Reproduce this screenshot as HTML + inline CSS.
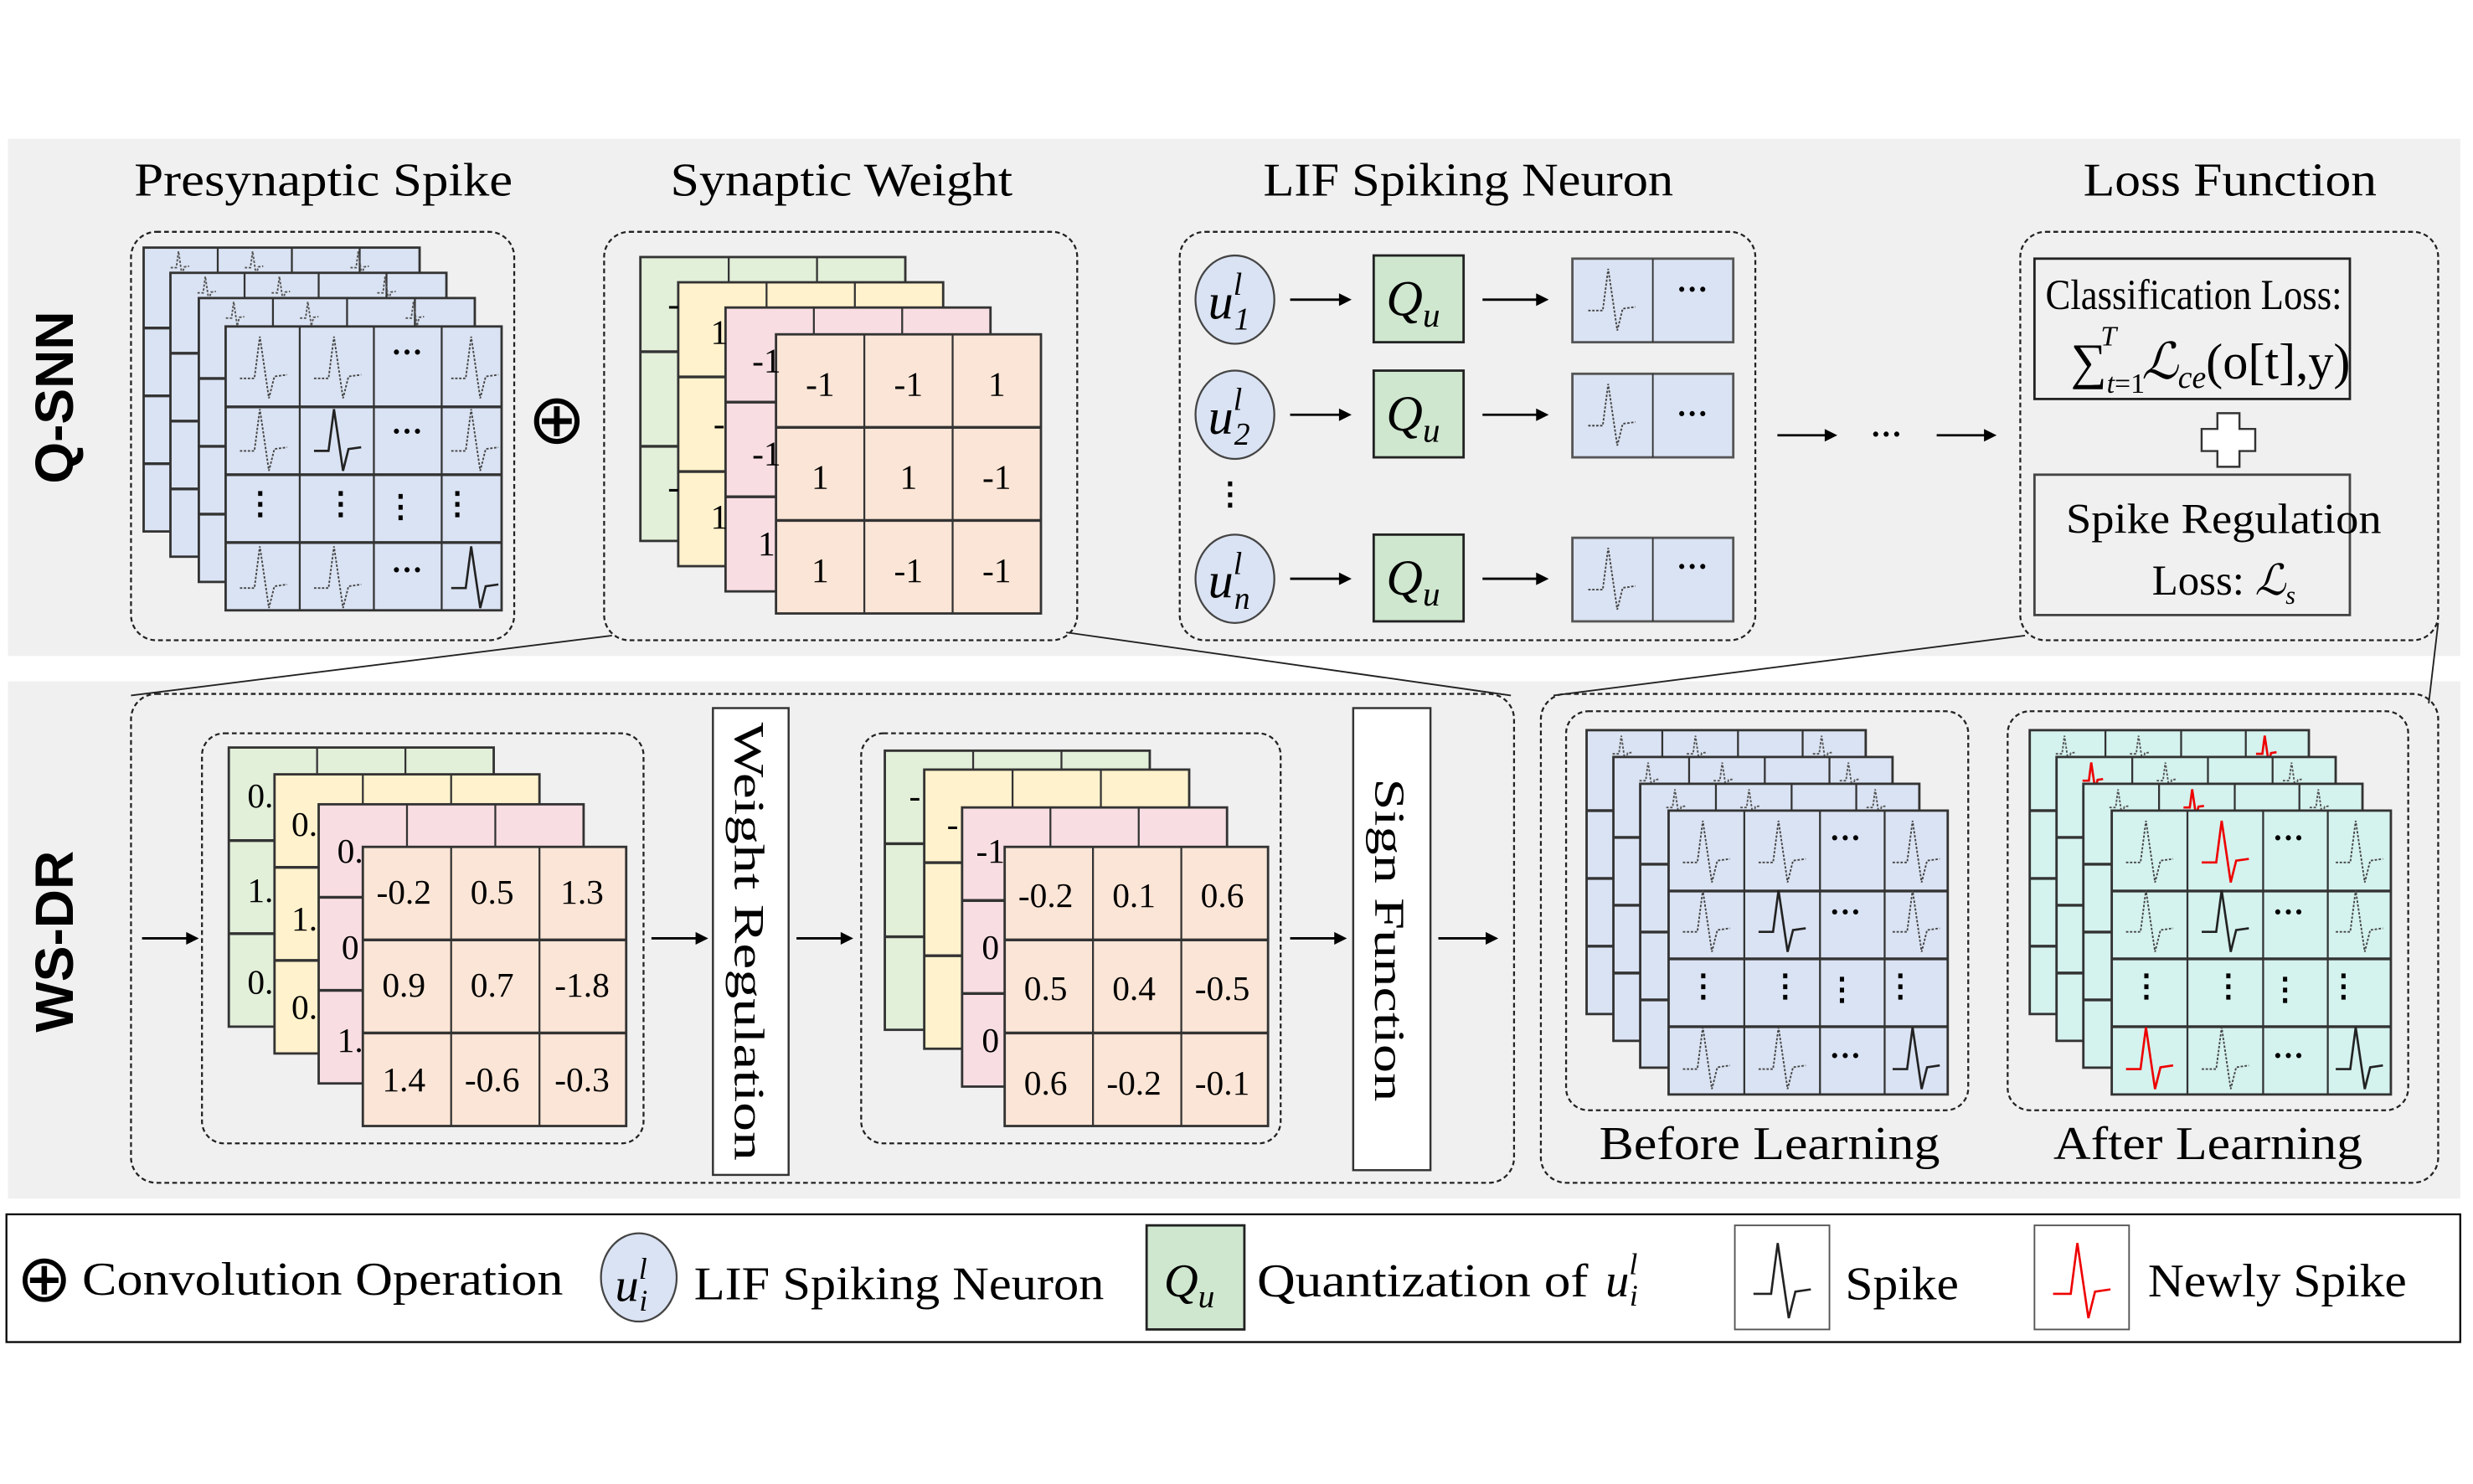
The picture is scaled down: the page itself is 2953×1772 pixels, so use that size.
<!DOCTYPE html>
<html><head><meta charset="utf-8">
<style>
html,body{margin:0;padding:0;background:#fff;}
svg{display:block;}
text{font-family:"Liberation Serif",serif;fill:#000;}
.t{font-size:30px;}
.n{font-size:22px;}
.sans{font-family:"Liberation Sans",sans-serif;font-weight:bold;}
</style></head>
<body>
<svg id="s" xmlns="http://www.w3.org/2000/svg" width="2953" height="1772" viewBox="0 0 1568 941">
<rect x="0" y="0" width="1568" height="941" fill="#fff"/>
<rect x="5" y="88" width="1555" height="328" fill="#f0f0f0"/>
<rect x="5" y="432" width="1555" height="328" fill="#f0f0f0"/>
<rect x="4" y="770" width="1556" height="81" fill="#fff" stroke="#000" stroke-width="1.2"/>
<g id="shapes"></g>

<text class="sans" font-size="34" transform="translate(46,252) rotate(-90)" text-anchor="middle">Q-SNN</text>
<text class="sans" font-size="34" transform="translate(46,597) rotate(-90)" text-anchor="middle">WS-DR</text>

<text class="t" x="85" y="124" textLength="240" lengthAdjust="spacingAndGlyphs">Presynaptic Spike</text>
<text class="t" x="425" y="124" textLength="217" lengthAdjust="spacingAndGlyphs">Synaptic Weight</text>
<text class="t" x="801" y="124" textLength="260" lengthAdjust="spacingAndGlyphs">LIF Spiking Neuron</text>
<text class="t" x="1321" y="124" textLength="186" lengthAdjust="spacingAndGlyphs">Loss Function</text>

<g font-size="20" font-weight="bold" text-anchor="middle">
<text x="258" y="230">···</text><text x="258" y="280">···</text><text x="258" y="368">···</text>
<text x="165" y="326">⋮</text><text x="216" y="326">⋮</text><text x="254" y="328">⋮</text><text x="290" y="326">⋮</text>
</g>
<text x="353" y="281" font-size="44" text-anchor="middle" font-family="DejaVu Sans,sans-serif">⊕</text>

<g class="n" text-anchor="middle" font-size="23">
<text x="427" y="200">-</text><text x="456" y="218">1</text><text x="486" y="236">-1</text>
<text x="456" y="276">-</text><text x="486" y="295">-1</text><text x="427" y="316">-</text>
<text x="456" y="335">1</text><text x="486" y="352">1</text>
<text x="520" y="251">-1</text><text x="576" y="251">-1</text><text x="632" y="251">1</text>
<text x="520" y="310">1</text><text x="576" y="310">1</text><text x="632" y="310">-1</text>
<text x="520" y="369">1</text><text x="576" y="369">-1</text><text x="632" y="369">-1</text>
</g>

<g font-style="italic" font-size="32">
<text x="766" y="202">u<tspan font-size="20" dy="-15">l</tspan><tspan font-size="20" dx="-5" dy="22">1</tspan></text>
<text x="766" y="275">u<tspan font-size="20" dy="-15">l</tspan><tspan font-size="20" dx="-5" dy="22">2</tspan></text>
<text x="766" y="379">u<tspan font-size="20" dy="-15">l</tspan><tspan font-size="20" dx="-5" dy="22">n</tspan></text>
<text x="879" y="200">Q<tspan font-size="22" dy="7">u</tspan></text>
<text x="879" y="273">Q<tspan font-size="22" dy="7">u</tspan></text>
<text x="879" y="377">Q<tspan font-size="22" dy="7">u</tspan></text>
</g>
<g font-size="20" font-weight="bold" text-anchor="middle">
<text x="1073" y="190">···</text><text x="1073" y="269">···</text><text x="1073" y="366">···</text>
<text x="780" y="320">⋮</text>
<text x="1196" y="282">···</text>
</g>

<text x="1297" y="196" font-size="27" textLength="188" lengthAdjust="spacingAndGlyphs">Classification Loss:</text>
<text x="1313" y="240" font-size="32">∑<tspan font-size="18" dy="9" font-style="italic">t</tspan><tspan font-size="18">=1</tspan><tspan font-size="18" font-style="italic" dx="-28" dy="-30">T</tspan><tspan dx="16" dy="21" font-style="italic">ℒ</tspan><tspan font-size="20" font-style="italic" dy="6">ce</tspan><tspan dy="-6">(o[t],y)</tspan></text>
<text x="1410" y="338" font-size="27" text-anchor="middle" textLength="200" lengthAdjust="spacingAndGlyphs">Spike Regulation</text>
<text x="1410" y="377" font-size="27" text-anchor="middle">Loss: <tspan font-style="italic">ℒ</tspan><tspan font-size="16" font-style="italic" dy="6">s</tspan></text>

<g class="n" text-anchor="middle">
<text x="165" y="512">0.</text><text x="193" y="530">0.</text><text x="165" y="572">1.</text><text x="193" y="590">1.</text>
<text x="165" y="630">0.</text><text x="193" y="646">0.</text>
<text x="222" y="547">0.</text>
<text x="222" y="608">0</text><text x="222" y="667">1.</text>
<text x="256" y="573">-0.2</text><text x="312" y="573">0.5</text><text x="369" y="573">1.3</text>
<text x="256" y="632">0.9</text><text x="312" y="632">0.7</text><text x="369" y="632">-1.8</text>
<text x="256" y="692">1.4</text><text x="312" y="692">-0.6</text><text x="369" y="692">-0.3</text>

<text x="580" y="512">-</text><text x="604" y="530">-</text><text x="628" y="547">-1</text>
<text x="628" y="608">0</text><text x="628" y="667">0</text>
<text x="663" y="575">-0.2</text><text x="719" y="575">0.1</text><text x="775" y="575">0.6</text>
<text x="663" y="634">0.5</text><text x="719" y="634">0.4</text><text x="775" y="634">-0.5</text>
<text x="663" y="694">0.6</text><text x="719" y="694">-0.2</text><text x="775" y="694">-0.1</text>
</g>
<text font-size="27" transform="translate(466,597) rotate(90)" text-anchor="middle" textLength="278" lengthAdjust="spacingAndGlyphs">Weight Regulation</text>
<text font-size="27" transform="translate(872,596) rotate(90)" text-anchor="middle" textLength="205" lengthAdjust="spacingAndGlyphs">Sign Function</text>

<g font-size="20" font-weight="bold" text-anchor="middle">
<text x="1170" y="538">···</text><text x="1170" y="585">···</text><text x="1170" y="676">···</text>
<text x="1080" y="632">⋮</text><text x="1132" y="632">⋮</text><text x="1168" y="634">⋮</text><text x="1205" y="632">⋮</text>
<text x="1451" y="538">···</text><text x="1451" y="585">···</text><text x="1451" y="676">···</text>
<text x="1361" y="632">⋮</text><text x="1413" y="632">⋮</text><text x="1449" y="634">⋮</text><text x="1486" y="632">⋮</text>
</g>
<text x="1014" y="735" font-size="30" textLength="216" lengthAdjust="spacingAndGlyphs">Before Learning</text>
<text x="1302" y="735" font-size="30" textLength="196" lengthAdjust="spacingAndGlyphs">After Learning</text>

<text x="28" y="825" font-size="42" text-anchor="middle" font-family="DejaVu Sans,sans-serif">⊕</text>
<text x="52" y="821" font-size="30" textLength="305" lengthAdjust="spacingAndGlyphs">Convolution Operation</text>
<text x="390" y="825" font-size="30" font-style="italic">u<tspan font-size="19" dy="-14">l</tspan><tspan font-size="19" dx="-5" dy="20">i</tspan></text>
<text x="440" y="824" font-size="30" textLength="260" lengthAdjust="spacingAndGlyphs">LIF Spiking Neuron</text>
<text x="738" y="822" font-size="30" font-style="italic">Q<tspan font-size="21" dy="7">u</tspan></text>
<text x="797" y="822" font-size="30" textLength="210" lengthAdjust="spacingAndGlyphs">Quantization of</text>
<text x="1018" y="822" font-size="30" font-style="italic">u<tspan font-size="19" dy="-14">l</tspan><tspan font-size="19" dx="-5" dy="20">i</tspan></text>
<text x="1170" y="824" font-size="30" textLength="72" lengthAdjust="spacingAndGlyphs">Spike</text>
<text x="1362" y="822" font-size="30" textLength="164" lengthAdjust="spacingAndGlyphs">Newly Spike</text>
</svg>
<script>
var NS="http://www.w3.org/2000/svg",G=document.getElementById("shapes");
function el(t,a){var e=document.createElementNS(NS,t);for(var k in a)e.setAttribute(k,a[k]);G.appendChild(e);return e;}
function rect(x,y,w,h,f,s,sw,ex){var a={x:x,y:y,width:w,height:h,fill:f||"none",stroke:s||"#333","stroke-width":sw||1.2};for(var k in ex||{})a[k]=ex[k];return el("rect",a);}
function line(x1,y1,x2,y2,s,sw,ex){var a={x1:x1,y1:y1,x2:x2,y2:y2,stroke:s||"#000","stroke-width":sw||1.2};for(var k in ex||{})a[k]=ex[k];return el("line",a);}
function grid(x,y,cw,rh,f){var W=cw.reduce((a,b)=>a+b),H=rh.reduce((a,b)=>a+b);rect(x,y,W,H,f,"#333",1.5);var cx=x;for(var i=0;i<cw.length-1;i++){cx+=cw[i];line(cx,y,cx,y+H,"#333",1.2);}var cy=y;for(var j=0;j<rh.length-1;j++){cy+=rh[j];line(x,cy,x+W,cy,"#333",1.8);}}
function spike(cx,cy,k,col,dashed){var p="M"+(cx-13*k)+","+(cy+6*k)+" L"+(cx-5*k)+","+(cy+6*k)+" L"+(cx-2*k)+","+(cy-17*k)+" L"+(cx+3*k)+","+(cy+17*k)+" L"+(cx+6*k)+","+(cy+5*k)+" L"+(cx+13*k)+","+(cy+4*k);var a={d:p,fill:"none",stroke:col||"#444","stroke-width":dashed?1:1.4};if(dashed)a["stroke-dasharray"]="1.5,1";el("path",a);}
function arrow(x1,y,x2){line(x1,y,x2-6,y,"#000",1.5);el("path",{d:"M"+x2+","+y+" l-8,-4 l0,8z",fill:"#000"});}
function dbox(x,y,w,h,r){rect(x,y,w,h,"none","#222",1.2,{rx:r||16,"stroke-dasharray":"3,2"});}

dbox(83,147,243,259);dbox(383,147,300,259);dbox(748,147,365,259);dbox(1281,147,265,259);
line(388,403,83,441,"#222",1);line(676,401,958,441,"#222",1);line(1284,403,985,441,"#222",1);line(1546,395,1540,446,"#222",1);

function spikeStack(x0,y0,f){
  var offs=[[0,0],[17,16],[35,32],[52,50]];
  for(var i=0;i<3;i++){var X=x0+offs[i][0],Y=y0+offs[i][1];grid(X,Y,[47,47,43,38],[51,43,43,43],f);
    [23,70,137].forEach(function(dx){spike(X+dx,Y+10,0.45,"#555",true);});}
  var X=x0+52,Y=y0+50;grid(X,Y,[47,47,43,38],[51,43,43,43],f);
  var k=1.15;
  spike(X+24,Y+26,k,"#444",true);spike(X+71,Y+26,k,"#444",true);spike(X+158,Y+26,k,"#444",true);
  spike(X+24,Y+72,k,"#444",true);spike(X+71,Y+72,k,"#222",false);spike(X+158,Y+72,k,"#444",true);
  spike(X+24,Y+159,k,"#444",true);spike(X+71,Y+159,k,"#444",true);spike(X+158,Y+159,k,"#222",false);
}
spikeStack(91,157,"#dae3f3");

grid(406,163,[56,56,56],[60,60,60],"#e2efd9");
grid(430,179,[56,56,56],[60,60,60],"#fff2cc");
grid(460,195,[56,56,56],[60,60,60],"#f8dde2");
grid(492,212,[56,56,56],[59,59,59],"#fbe5d6");

[190,263,367].forEach(function(y){el("ellipse",{cx:783,cy:y,rx:25,ry:28,fill:"#dae3f3",stroke:"#444","stroke-width":1.2});
  arrow(818,y,857);rect(871,y-28,57,55,"#cfe6cf","#222",1.5);arrow(940,y,982);
  rect(997,y-26,102,53,"#dae3f3","#555",1.5);line(1048,y-26,1048,y+27,"#333",1);spike(1022,y,1.15,"#444",true);});
arrow(1127,276,1165);arrow(1228,276,1266);
rect(1290,164,200,89,"none","#222",1.5);rect(1290,301,200,89,"none","#444",1.5);
el("path",{d:"M1406,262 h14 v10 h10 v14 h-10 v10 h-14 v-10 h-10 v-14 h10z",fill:"#fff",stroke:"#333","stroke-width":1.3});

dbox(83,440,877,310,16);dbox(128,465,280,260,14);dbox(546,465,266,260,14);dbox(977,440,569,310,16);
dbox(993,451,255,253,14);dbox(1273,451,254,253,14);
arrow(90,595,126);arrow(413,595,449);arrow(505,595,541);arrow(818,595,854);arrow(912,595,950);
rect(452,449,48,296,"#fff","#333",1.3);rect(858,449,49,293,"#fff","#333",1.3);
grid(145,474,[56,56,56],[59,59,59],"#e2efd9");
grid(174,491,[56,56,56],[59,59,59],"#fff2cc");
grid(202,510,[56,56,56],[59,59,59],"#f8dde2");
grid(230,537,[56,56,55],[59,59,59],"#fbe5d6");
grid(561,476,[56,56,56],[59,59,59],"#e2efd9");
grid(586,488,[56,56,56],[59,59,59],"#fff2cc");
grid(610,512,[56,56,56],[59,59,59],"#f8dde2");
grid(637,537,[56,56,55],[59,59,59],"#fbe5d6");

function bigStack(x0,y0,f,red){
  var offs=[[0,0],[17,17],[34,34],[52,51]],cw=[48,48,41,40],rh=[51,43,43,43];
  for(var i=0;i<3;i++){var X=x0+offs[i][0],Y=y0+offs[i][1];grid(X,Y,cw,rh,f);
    [23,70,150].forEach(function(dx,j){var r=red&&((i==0&&j==2)||(i==1&&j==0)||(i==2&&j==1));spike(X+dx,Y+12,0.5,r?"#e00":"#555",!r);});}
  var X=x0+52,Y=y0+51;grid(X,Y,cw,rh,f);var k=1.15;
  spike(X+24,Y+26,k,"#444",true);
  spike(X+72,Y+26,k,red?"#e00":"#444",!red);
  spike(X+157,Y+26,k,"#444",true);
  spike(X+24,Y+70,k,"#444",true);spike(X+72,Y+70,k,"#222",false);spike(X+157,Y+70,k,"#444",true);
  spike(X+24,Y+157,k,red?"#e00":"#444",!red);spike(X+72,Y+157,k,"#444",true);spike(X+157,Y+157,k,"#222",false);
}
bigStack(1006,463,"#dae3f3",false);
bigStack(1287,463,"#d4f2ee",true);

el("ellipse",{cx:405,cy:810,rx:24,ry:28,fill:"#dae3f3",stroke:"#444","stroke-width":1.2});
rect(727,777,62,66,"#cfe6cf","#222",1.5);
rect(1100,777,60,66,"#fff","#555",1);spike(1130,812,1.4,"#222",false);
rect(1290,777,60,66,"#fff","#555",1);spike(1320,812,1.4,"#e00",false);
</script>
</body></html>
